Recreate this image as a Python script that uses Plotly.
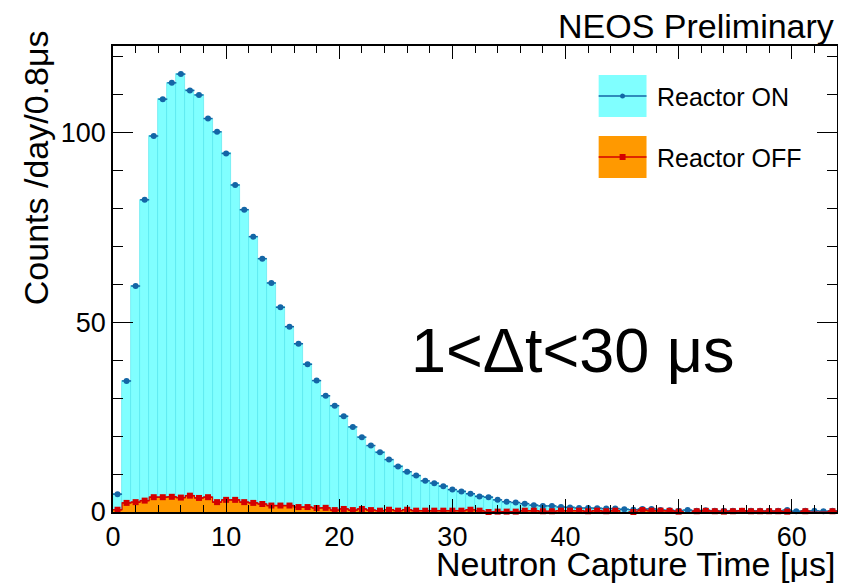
import plotly.graph_objects as go

# ---------------- data ----------------
bin_width = 0.8
n_bins = 80
bin_centers = [round(bin_width * (i + 0.5), 3) for i in range(n_bins)]

reactor_on = [
    4.7, 34.5, 59.5, 82.2, 99.0, 108.7, 113.0, 115.3, 111.0, 109.8,
    103.6, 100.1, 94.4, 86.1, 79.6, 72.5, 66.7, 60.3, 53.9, 48.8,
    44.3, 38.9, 34.6, 30.6, 28.0, 25.2, 22.4, 19.7, 17.5, 15.7,
    13.8, 12.0, 10.6, 9.6, 8.2, 7.6, 6.8, 5.9, 5.4, 4.8,
    4.1, 3.9, 3.2, 2.7, 2.5, 2.2, 1.8, 1.6, 1.6, 1.3,
    1.2, 1.05, 1.05, 1.0, 0.9, 0.9, 0.7, 0.6, 0.8, 0.8,
    0.5, 0.45, 0.35, 0.5, 0.35, 0.45, 0.35, 0.35, 0.35, 0.35,
    0.35, 0.3, 0.35, 0.3, 0.5, 0.2, 0.3, 0.3, 0.2, 0.3,
]

reactor_off = [
    0.6, 2.4, 2.6, 3.0, 3.9, 3.9, 4.0, 3.8, 4.3, 3.7,
    3.9, 2.6, 3.2, 3.2, 2.6, 2.4, 2.1, 1.7, 1.7, 1.7,
    1.3, 1.3, 1.05, 1.1, 0.5, 0.8, 0.5, 0.8, 0.5, 0.35,
    0.6, 0.35, 0.6, 0.35, 0.35, 0.35, 0.35, 0.35, 0.35, 0.6,
    0.35, 0.0, 0.1, 0.1, 0.1, 0.35, 0.35, 0.2, 0.2, 0.35,
    0.35, 0.35, 0.2, 0.35, 0.2, 0.35, -0.3, 0.0, 0.5, 0.35,
    0.35, 0.3, 0.1, -0.2, 0.2, 0.3, 0.2, 0.1, 0.2, 0.3,
    0.2, 0.2, 0.2, 0.2, 0.1, -0.2, 0.2, -0.1, -0.1, 0.2,
]

x_ticks = [0, 10, 20, 30, 40, 50, 60]
y_ticks = [0, 50, 100]

# ---------------- styles ----------------
FONT = "Liberation Sans"
CYAN = "#80FFFF"
ORANGE = "#FF9900"
BLUE = "#1466A6"
RED = "#D40000"

PAGE_W, PAGE_H = 846, 586
BODY = 8  # default page body margin of the html page
W, H = PAGE_W - BODY, PAGE_H - BODY
# plot frame in page pixels
L, R, T, B = 113, 839, 46, 512


def px(xp):
    return (xp - L) / (R - L)


def py(yp):
    return (B - yp) / (B - T)


fig = go.Figure()

fig.add_trace(go.Bar(
    x=bin_centers, y=reactor_on, width=bin_width,
    marker=dict(color=CYAN, line=dict(color="rgba(70,225,235,0.7)", width=0.8)),
    showlegend=False, hoverinfo="skip",
))
fig.add_trace(go.Bar(
    x=bin_centers, y=reactor_off, width=bin_width,
    marker=dict(color=ORANGE, line=dict(width=0)),
    showlegend=False, hoverinfo="skip",
))
fig.add_trace(go.Scatter(
    x=bin_centers, y=reactor_on, mode="markers",
    marker=dict(symbol="circle", size=6, color=BLUE),
    error_x=dict(type="constant", value=bin_width / 2, width=0, thickness=1.5, color=BLUE),
    showlegend=False, cliponaxis=False,
))
fig.add_trace(go.Scatter(
    x=bin_centers, y=reactor_off, mode="lines+markers",
    line=dict(shape="hvh", color=RED, width=1.2),
    marker=dict(symbol="square", size=6, color=RED),
    error_x=dict(type="constant", value=bin_width / 2, width=0, thickness=1.5, color=RED),
    showlegend=False, cliponaxis=False,
))

axis_common = dict(
    showline=True, linecolor="black", linewidth=1.5, mirror="ticks",
    ticks="inside", tickcolor="black", tickwidth=1.2,
    showgrid=False, zeroline=False,
    tickfont=dict(family=FONT, size=27, color="black"),
)

fig.update_xaxes(
    range=[0, 64], tickvals=x_ticks, ticklen=13,
    minor=dict(dtick=2, tick0=0, ticklen=7, ticks="inside", tickcolor="black", tickwidth=1),
    **axis_common,
)
fig.update_yaxes(
    range=[0, 122.7], tickvals=y_ticks, ticklen=20,
    minor=dict(dtick=10, tick0=0, ticklen=10, ticks="inside", tickcolor="black", tickwidth=1),
    **axis_common,
)

shapes = []
annotations = []

# legend (hand-drawn, ROOT style)
shapes.append(dict(type="rect", xref="paper", yref="paper",
                   x0=px(600), x1=px(648), y0=py(117), y1=py(75),
                   fillcolor=CYAN, line=dict(width=0), layer="above"))
shapes.append(dict(type="line", xref="paper", yref="paper",
                   x0=px(600), x1=px(648), y0=py(96), y1=py(96),
                   line=dict(color=BLUE, width=1.5), layer="above"))
shapes.append(dict(type="circle", xref="paper", yref="paper",
                   x0=px(621.5), x1=px(626.5), y0=py(98.5), y1=py(93.5),
                   fillcolor=BLUE, line=dict(width=0), layer="above"))
shapes.append(dict(type="rect", xref="paper", yref="paper",
                   x0=px(600), x1=px(648), y0=py(178), y1=py(136),
                   fillcolor=ORANGE, line=dict(width=0), layer="above"))
shapes.append(dict(type="line", xref="paper", yref="paper",
                   x0=px(600), x1=px(648), y0=py(157), y1=py(157),
                   line=dict(color=RED, width=1.5), layer="above"))
shapes.append(dict(type="rect", xref="paper", yref="paper",
                   x0=px(621), x1=px(627), y0=py(160), y1=py(154),
                   fillcolor=RED, line=dict(width=0), layer="above"))

annotations.append(dict(text="Reactor ON", xref="paper", yref="paper",
                        x=px(656), y=py(97), xanchor="left", yanchor="middle",
                        showarrow=False, font=dict(family=FONT, size=25, color="black")))
annotations.append(dict(text="Reactor OFF", xref="paper", yref="paper",
                        x=px(656), y=py(158), xanchor="left", yanchor="middle",
                        showarrow=False, font=dict(family=FONT, size=25, color="black")))

# axis titles (ROOT style: aligned to the axis end)
annotations.append(dict(text="Neutron Capture Time [μs]", xref="paper", yref="paper",
                        x=1.0, y=py(564), xanchor="right", yanchor="middle",
                        showarrow=False, font=dict(family=FONT, size=34, color="black")))
annotations.append(dict(text="Counts /day/0.8μs", xref="paper", yref="paper",
                        x=px(36), y=py(168), xanchor="center", yanchor="middle",
                        textangle=-90, showarrow=False,
                        font=dict(family=FONT, size=34, color="black")))

annotations.append(dict(text="NEOS Preliminary", xref="paper", yref="paper",
                        x=px(838), y=py(26), xanchor="right", yanchor="middle",
                        showarrow=False, font=dict(family=FONT, size=34, color="black")))
annotations.append(dict(text="1<Δt<30 μs", xref="paper", yref="paper",
                        x=px(410), y=py(350), xanchor="left", yanchor="middle",
                        showarrow=False, font=dict(family=FONT, size=63, color="black")))

fig.update_layout(
    width=W, height=H,
    margin=dict(l=L - BODY, r=PAGE_W - R, t=T - BODY, b=PAGE_H - B, pad=0),
    paper_bgcolor="white", plot_bgcolor="white",
    barmode="overlay", bargap=0,
    shapes=shapes, annotations=annotations,
    showlegend=False,
)

fig.write_html("out.html")
